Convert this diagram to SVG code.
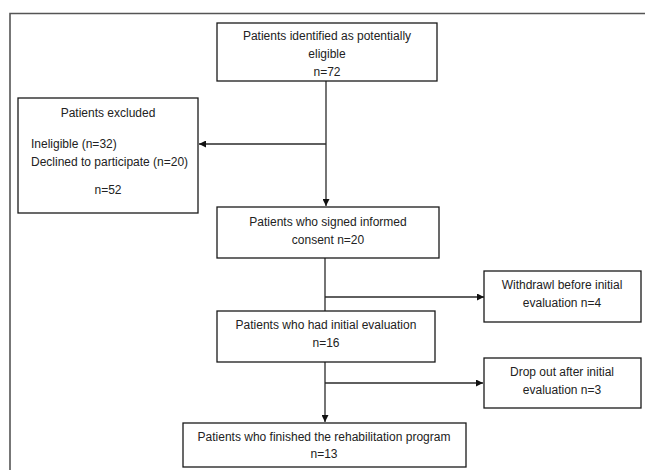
<svg xmlns="http://www.w3.org/2000/svg" width="645" height="470" viewBox="0 0 645 470">
<style>
.box{fill:#fff;stroke:#1a1a1a;stroke-width:1.3}
.t{font-family:"Liberation Sans",Arial,sans-serif;font-size:12px;fill:#222;text-anchor:middle}
.l{text-anchor:start}
.c{fill:none;stroke:#2a2a2a;stroke-width:1.3}
</style>
<defs>
<marker id="ah" viewBox="0 0 10 10" refX="10" refY="5" markerWidth="7" markerHeight="7" markerUnits="userSpaceOnUse" orient="auto">
<path d="M0,0 L10,5 L0,10 z" fill="#111"/>
</marker>
</defs>
<rect width="645" height="470" fill="#fff"/>
<path d="M10,470 V13.5 H645" fill="none" stroke="#555" stroke-width="1.6"/>
<g id="connectors">
<path class="c" d="M326,81 V206" marker-end="url(#ah)"/>
<path class="c" d="M326,144 H199" marker-end="url(#ah)"/>
<path class="c" d="M325,258 V311"/>
<path class="c" d="M325,297 H484" marker-end="url(#ah)"/>
<path class="c" d="M325,362 V422" marker-end="url(#ah)"/>
<path class="c" d="M325,383 H483" marker-end="url(#ah)"/>
</g>
<g id="identified">
<rect class="box" x="217" y="23" width="220" height="58"/>
<text class="t" x="327" y="40">Patients identified as potentially</text>
<text class="t" x="327" y="58">eligible</text>
<text class="t" x="327" y="76">n=72</text>
</g>
<g id="excluded">
<rect class="box" x="18" y="98" width="180" height="115"/>
<text class="t" x="108" y="117">Patients excluded</text>
<text class="t l" x="31" y="148">Ineligible (n=32)</text>
<text class="t l" x="31" y="166">Declined to participate (n=20)</text>
<text class="t" x="108" y="194">n=52</text>
</g>
<g id="consent">
<rect class="box" x="217" y="207" width="222" height="51"/>
<text class="t" x="328" y="226">Patients who signed informed</text>
<text class="t" x="328" y="244">consent n=20</text>
</g>
<g id="withdrawl">
<rect class="box" x="484" y="271" width="157" height="51"/>
<text class="t" x="562" y="289">Withdrawl before initial</text>
<text class="t" x="562" y="307">evaluation n=4</text>
</g>
<g id="initial">
<rect class="box" x="217" y="311" width="218" height="51"/>
<text class="t" x="326" y="329">Patients who had initial evaluation</text>
<text class="t" x="326" y="347">n=16</text>
</g>
<g id="dropout">
<rect class="box" x="484" y="358" width="157" height="50"/>
<text class="t" x="562" y="376">Drop out after initial</text>
<text class="t" x="562" y="394">evaluation n=3</text>
</g>
<g id="finished">
<rect class="box" x="183" y="423" width="283" height="44"/>
<text class="t" x="324" y="441">Patients who finished the rehabilitation program</text>
<text class="t" x="324" y="458">n=13</text>
</g>
</svg>
